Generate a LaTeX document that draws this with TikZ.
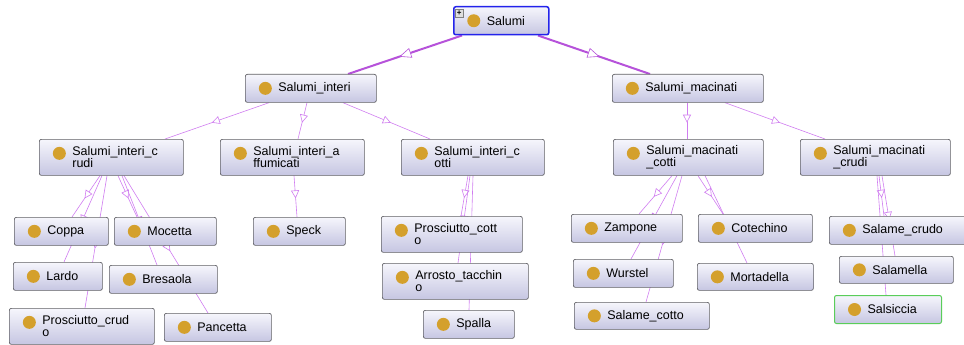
\documentclass[tikz,border=0pt]{standalone}
\usepackage{fontspec}
\setmainfont{Liberation Sans}
\usepackage{tikz}
\usetikzlibrary{arrows.meta,positioning,calc,backgrounds,decorations.markings}
\usepackage{xcolor}
\definecolor{boxtop}{RGB}{246,246,252}
\definecolor{boxbot}{RGB}{198,198,226}
\definecolor{boxline}{RGB}{95,95,100}
\definecolor{dotcol}{RGB}{212,160,44}
\definecolor{isacol}{RGB}{208,125,240}
\definecolor{rootedge}{RGB}{182,82,218}
\definecolor{selblue}{RGB}{35,35,235}
\definecolor{selgreen}{RGB}{90,205,90}

\begin{document}
\begin{tikzpicture}[
            x=1pt, y=-1pt,
            dot y/.store in=\doty, dot y=0pt,
            every node/.style={font=\fontsize{12.5}{12}\selectfont},
            cls/.style={
                draw=boxline, line width=0.7pt, rounded corners=2pt,
                top color=boxtop, bottom color=boxbot,
                anchor=north west, inner xsep=0pt, inner ysep=0pt,
                text width=#1pt, minimum height=28pt, align=left,
                execute at begin node={\leftskip=33pt\hyphenpenalty=10000},
                path picture={\fill[dotcol] ([xshift=20pt,yshift=\doty]path picture bounding box.west) circle (6.5pt);}
            },
            tall/.style={minimum height=36pt, dot y=4pt},
            isa/.style={
                draw=isacol, line width=0.6pt, postaction={decorate},
                decoration={markings, mark=at position 0.55 with {\arrow{Triangle[fill=white, length=8pt, width=8pt, line width=0.6pt]}}}
            },
            rootisa/.style={
                draw=rootedge, line width=2pt, postaction={decorate},
                decoration={markings, mark=at position 0.55 with {\arrow{Triangle[fill=white, length=12pt, width=10pt, line width=0.6pt]}}}
            }
        ]
            \useasboundingbox (0,0) rectangle (964,345);

            % top levels
            \node[cls=95, draw=selblue, line width=1.5pt] (salumi) at (453,6) {Salumi};
            \node[draw=gray, fill=gray!25, inner sep=0pt, minimum size=8pt, anchor=north west,
                font=\fontsize{8}{8}\selectfont\bfseries] (expand) at ([xshift=2pt,yshift=-3pt]salumi.north west) {+};
            \node[cls=131] (interi) at (245,74) {Salumi\_interi};
            \node[cls=151] (macinati) at (612,74) {Salumi\_macinati};

            \node[cls=144, tall] (interiCrudi) at (39,139) {Salumi\_interi\_c\\rudi};
            \node[cls=144, tall] (interiAffum) at (220,139) {Salumi\_interi\_a\\ffumicati};
            \node[cls=143, tall] (interiCotti) at (401,139) {Salumi\_interi\_c\\otti};
            \node[cls=150, tall] (macinatiCotti) at (613,139) {Salumi\_macinati\\\_cotti};
            \node[cls=150, tall] (macinatiCrudi) at (800,139) {Salumi\_macinati\\\_crudi};

            % leaves
            \node[cls=94] (coppa) at (14,217) {Coppa};
            \node[cls=102] (mocetta) at (114,217) {Mocetta};
            \node[cls=89] (lardo) at (13,262) {Lardo};
            \node[cls=108] (bresaola) at (109,265) {Bresaola};
            \node[cls=145, tall] (prosciuttoCrudo) at (9,308) {Prosciutto\_crud\\o};
            \node[cls=107] (pancetta) at (164,313) {Pancetta};
            \node[cls=92] (speck) at (253,217) {Speck};
            \node[cls=141, tall] (prosciuttoCotto) at (381,216) {Prosciutto\_cott\\o};
            \node[cls=146, tall] (arrosto) at (382,263) {Arrosto\_tacchin\\o};
            \node[cls=91] (spalla) at (423,310) {Spalla};
            \node[cls=111] (zampone) at (571,214) {Zampone};
            \node[cls=114] (cotechino) at (698,214) {Cotechino};
            \node[cls=100] (wurstel) at (573,259) {Wurstel};
            \node[cls=116, minimum height=27pt] (mortadella) at (697,263) {Mortadella};
            \node[cls=135, minimum height=27pt] (salameCotto) at (574,302) {Salame\_cotto};
            \node[cls=140] (salameCrudo) at (829,216) {Salame\_crudo};
            \node[cls=114, minimum height=27pt] (salamella) at (839,256) {Salamella};
            \node[cls=107, draw=selgreen, line width=1pt] (salsiccia) at (834,295) {Salsiccia};

            % subclass links, behind the boxes
            \begin{scope}[on background layer]
                \draw[rootisa] ([xshift=9pt]salumi.south west) -- ([xshift=103pt]interi.north west);
                \draw[rootisa] ([xshift=85pt]salumi.south west) -- ([xshift=38pt]macinati.north west);

                \draw[isa] ([xshift=24pt]interi.south west) -- ([xshift=126pt]interiCrudi.north west);
                \draw[isa] ([xshift=62pt]interi.south west) -- ([xshift=78pt]interiAffum.north west);
                \draw[isa] ([xshift=98pt]interi.south west) -- ([xshift=29pt]interiCotti.north west);
                \draw[isa] ([xshift=75pt]macinati.south west) -- ([xshift=74pt]macinatiCotti.north west);
                \draw[isa] ([xshift=113pt]macinati.south west) -- ([xshift=25pt]macinatiCrudi.north west);

                \draw[isa] ([xshift=61pt]interiCrudi.south west) -- ([xshift=58pt]coppa.north west);
                \draw[isa] ([xshift=63pt]interiCrudi.south west) -- ([xshift=51pt]lardo.north west);
                \draw[isa] ([xshift=68pt]interiCrudi.south west) -- ([xshift=76pt]prosciuttoCrudo.north west);
                \draw[isa] ([xshift=79pt]interiCrudi.south west) -- ([xshift=23pt]mocetta.north west);
                \draw[isa] ([xshift=83pt]interiCrudi.south west) -- ([xshift=48pt]bresaola.north west);
                \draw[isa] ([xshift=85pt]interiCrudi.south west) -- ([xshift=44pt]pancetta.north west);

                \draw[isa] ([xshift=74pt]interiAffum.south west) -- ([xshift=44pt]speck.north west);

                \draw[isa] ([xshift=67pt]interiCotti.south west) -- ([xshift=80pt]prosciuttoCotto.north west);
                \draw[isa] ([xshift=69pt]interiCotti.south west) -- ([xshift=76pt]arrosto.north west);
                \draw[isa] ([xshift=72pt]interiCotti.south west) -- ([xshift=46pt]spalla.north west);

                \draw[isa] ([xshift=59pt]macinatiCotti.south west) -- ([xshift=68pt]zampone.north west);
                \draw[isa] ([xshift=64pt]macinatiCotti.south west) -- ([xshift=58pt]wurstel.north west);
                \draw[isa] ([xshift=69pt]macinatiCotti.south west) -- ([xshift=72pt]salameCotto.north west);
                \draw[isa] ([xshift=85pt]macinatiCotti.south west) -- ([xshift=25pt]cotechino.north west);
                \draw[isa] ([xshift=92pt]macinatiCotti.south west) -- ([xshift=50pt]mortadella.north west);

                \draw[isa] ([xshift=79pt]macinatiCrudi.south west) -- ([xshift=55pt]salameCrudo.north west);
                \draw[isa] ([xshift=82pt]macinatiCrudi.south west) -- ([xshift=56pt]salamella.north west);
                \draw[isa] ([xshift=77pt]macinatiCrudi.south west) -- ([xshift=52pt]salsiccia.north west);
            \end{scope}
        \end{tikzpicture}
\end{document}
